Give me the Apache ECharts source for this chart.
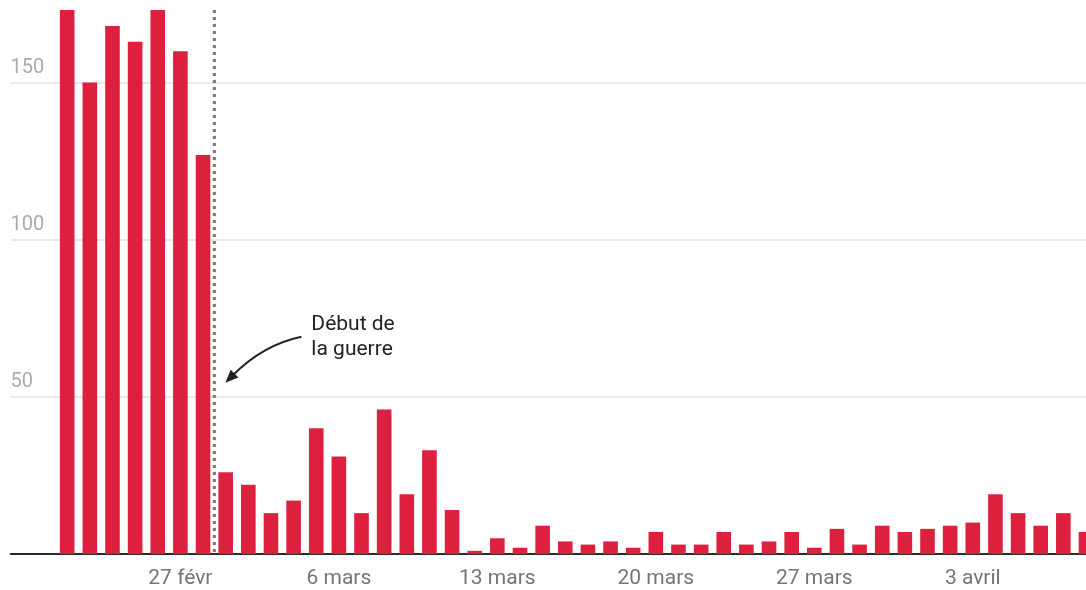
<!DOCTYPE html>
<html>
<head>
<meta charset="utf-8">
<script src="https://cdn.jsdelivr.net/npm/echarts@6/dist/echarts.min.js"></script>
<style>
  html, body { margin: 0; padding: 0; background: #fff; overflow: hidden; width: 1086px; height: 590px; }
  #chart { width: 1098px; height: 590px; }
</style>
</head>
<body>
<div id="chart"></div>
<script>
// Categories (days); the first two are empty slots before the data starts
const categories = [
  '20 févr', '21 févr',
  '22 févr', '23 févr', '24 févr', '25 févr', '26 févr', '27 févr', '28 févr',
  '1 mars', '2 mars', '3 mars', '4 mars', '5 mars', '6 mars', '7 mars', '8 mars', '9 mars', '10 mars',
  '11 mars', '12 mars', '13 mars', '14 mars', '15 mars', '16 mars', '17 mars', '18 mars', '19 mars', '20 mars',
  '21 mars', '22 mars', '23 mars', '24 mars', '25 mars', '26 mars', '27 mars', '28 mars', '29 mars', '30 mars',
  '31 mars', '1 avril', '2 avril', '3 avril', '4 avril', '5 avril', '6 avril', '7 avril', '8 avril'
];
const values = [
  null, null,
  175, 150, 168, 163, 175, 160, 127,
  26, 22, 13, 17, 40, 31, 13, 46, 19, 33,
  14, 1, 5, 2, 9, 4, 3, 4, 2, 7,
  3, 3, 7, 3, 4, 7, 2, 8, 3, 9,
  7, 8, 9, 10, 19, 13, 9, 13, 7
];
const xTickLabels = ['27 févr', '6 mars', '13 mars', '20 mars', '27 mars', '3 avril'];
const yTickValues = [50, 100, 150];
const warBefore = '28 févr';
const warAfter = '1 mars';
const annotationText = 'Début de\nla guerre';

const chart = echarts.init(document.getElementById('chart'), null, { renderer: 'canvas' });
const FONT = 'Roboto, "Noto Sans", sans-serif';

const option = {
  animation: false,
  grid: { left: 10.6, right: 0.7, top: 10, bottom: 36, containLabel: false },
  xAxis: {
    type: 'category',
    data: categories,
    boundaryGap: true,
    axisTick: { show: false },
    axisLine: { show: true, lineStyle: { color: '#2b2b2b', width: 2 } },
    axisLabel: {
      interval: (idx, val) => xTickLabels.includes(val),
      color: '#757575',
      fontFamily: FONT,
      fontSize: 21,
      margin: 14
    },
    splitLine: { show: false }
  },
  yAxis: {
    type: 'value',
    min: 0,
    max: 173.1,
    interval: 50,
    axisLine: { show: false },
    axisTick: { show: false },
    axisLabel: {
      inside: true,
      showMinLabel: false,
      showMaxLabel: false,
      formatter: v => (yTickValues.includes(v) ? String(v) : ''),
      color: '#ababab',
      fontFamily: FONT,
      fontSize: 20,
      margin: 0,
      verticalAlign: 'bottom',
      padding: [0, 0, 5, 0]
    },
    splitLine: {
      show: true,
      lineStyle: { color: ['transparent', '#e2e2e2', '#e2e2e2', '#e2e2e2', 'transparent'], width: 1.5 }
    }
  },
  series: [{
    type: 'bar',
    data: values,
    barWidth: 14.6,
    clip: true,
    itemStyle: { color: '#dd203e' }
  }]
};
chart.setOption(option);

function drawAnnotation() {
  const xa = chart.convertToPixel({ xAxisIndex: 0 }, warBefore);
  const xb = chart.convertToPixel({ xAxisIndex: 0 }, warAfter);
  const lineX = (xa + xb) / 2;
  const yTop = chart.convertToPixel({ yAxisIndex: 0 }, 173.1);
  const yBase = chart.convertToPixel({ yAxisIndex: 0 }, 0);
  const tipY = chart.convertToPixel({ yAxisIndex: 0 }, 54.5);

  const tip = [lineX + 11, tipY];
  const start = [lineX + 87, tipY - 46];
  const cp = [lineX + 49, tipY - 38];
  let dx = tip[0] - cp[0], dy = tip[1] - cp[1];
  const len = Math.hypot(dx, dy);
  dx /= len; dy /= len;
  const headLen = 13, headHalf = 5.5;
  const base = [tip[0] - headLen * dx, tip[1] - headLen * dy];
  const nx = -dy, ny = dx;
  const curveEnd = [tip[0] - (headLen - 2) * dx, tip[1] - (headLen - 2) * dy];

  chart.setOption({
    graphic: [
      {
        type: 'line', z: 10,
        shape: { x1: lineX, y1: yTop, x2: lineX, y2: yBase - 1 },
        style: { stroke: '#767676', lineWidth: 3, lineDash: [3, 4] }
      },
      {
        type: 'bezierCurve', z: 10,
        shape: { x1: start[0], y1: start[1], x2: curveEnd[0], y2: curveEnd[1], cpx1: cp[0], cpy1: cp[1] },
        style: { stroke: '#222', lineWidth: 2, fill: null }
      },
      {
        type: 'polygon', z: 10,
        shape: { points: [tip, [base[0] + headHalf * nx, base[1] + headHalf * ny], [base[0] - headHalf * nx, base[1] - headHalf * ny]] },
        style: { fill: '#222' }
      },
      {
        type: 'text', z: 10,
        x: lineX + 97, y: tipY - 70,
        style: {
          text: annotationText,
          fill: '#222',
          font: '21px ' + FONT,
          lineHeight: 25,
          textVerticalAlign: 'top'
        }
      }
    ]
  });
}
drawAnnotation();
</script>
</body>
</html>
